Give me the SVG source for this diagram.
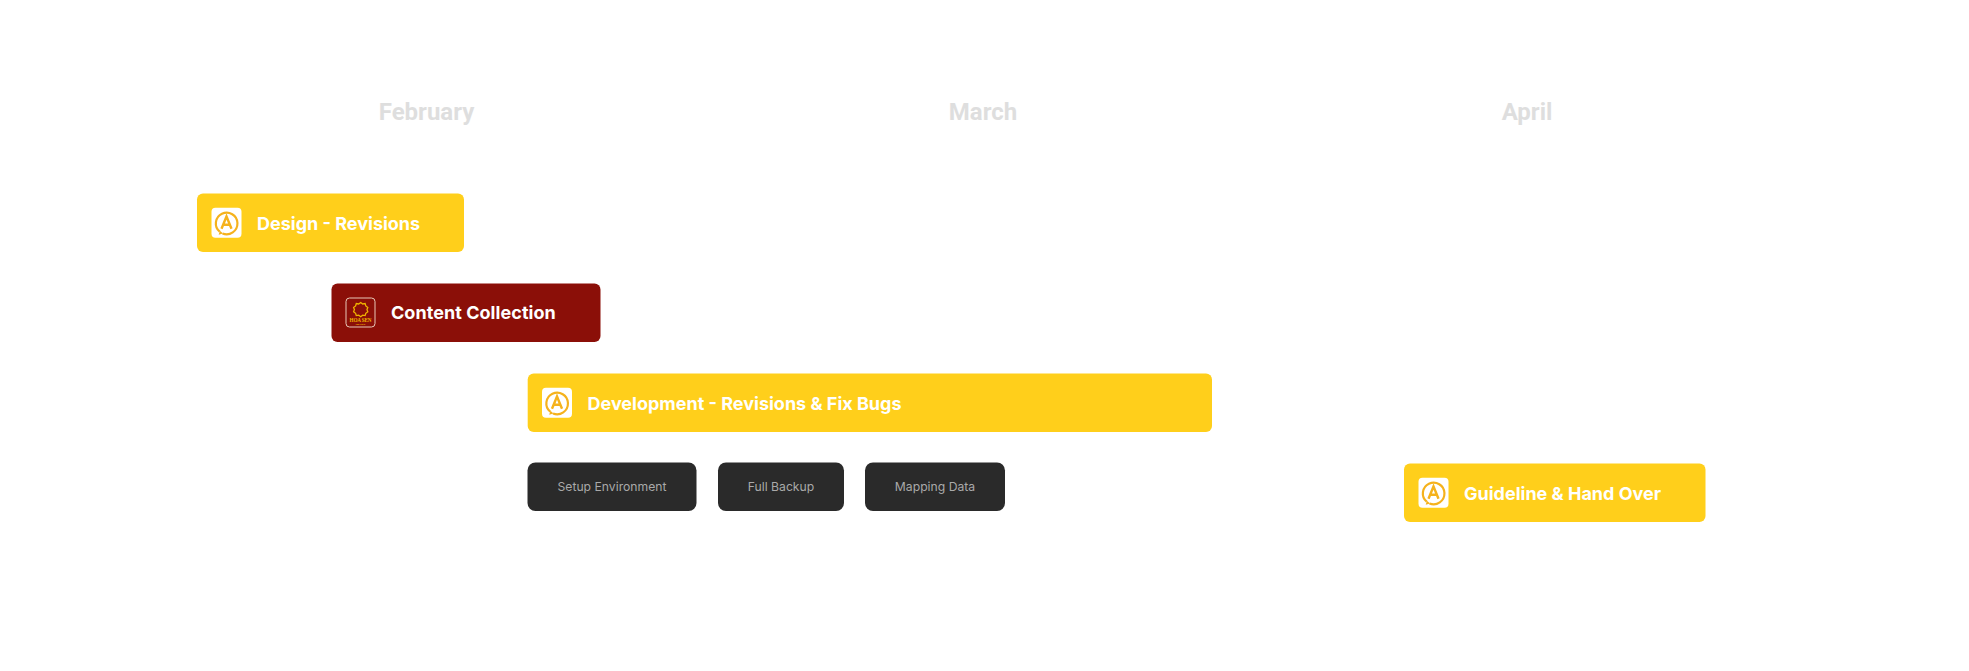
<svg xmlns="http://www.w3.org/2000/svg" width="1969" height="671" viewBox="0 0 1969 671">
<style>
text{font-family:Inter,"Liberation Sans",sans-serif}
.month{font-family:Roboto,"Liberation Sans",sans-serif;font-size:24px;font-weight:700;fill:#dedede;text-anchor:middle}
.bar{fill:#ffcf1b}
.red{fill:#8b0f08}
.dark{fill:#2a2a2a}
.t{font-size:18px;font-weight:700;fill:#fff}
.s{font-size:12.200px;font-weight:400;fill:#a9a9a9;text-anchor:middle}
.lg{font-family:"Liberation Serif",serif;font-weight:700;fill:#f0b400;text-anchor:middle}
</style>
<defs>
<g id="logoA">
<rect width="30" height="30" rx="4" fill="#fff"/>
<path d="M8.200 24A10.800 10.800 0 1 1 11 25.700" fill="none" stroke="#f5b21c" stroke-width="2.200"/>
<path d="M8.400 23L7.200 27L11.600 25.800Z" fill="#f5b21c"/>
<path d="M10 21L15 8.800L20 21M12 17h6" fill="none" stroke="#f5b21c" stroke-width="2.400"/>
</g>
</defs>
<g id="month-february"><text class="month" x="426.500" y="120">February</text></g>
<g id="month-march"><text class="month" x="983" y="120">March</text></g>
<g id="month-april"><text class="month" x="1527" y="120">April</text></g>
<g id="connectors"></g>
<g id="design"><rect class="bar" x="197" y="193.500" width="267" height="58.500" rx="6"/><use href="#logoA" x="211.500" y="207.700"/><text class="t" x="257" y="229.500">Design - Revisions</text></g>
<g id="content"><rect class="red" x="331.500" y="283.500" width="269" height="58.500" rx="6"/>
<rect x="346" y="298" width="29" height="29" rx="3.500" fill="none" stroke="#e8c9b8" stroke-width="1"/>
<path d="M360.700 302.500l2 1.500 2.400-.4.700 2.300 2 1.500-.8 2.200.8 2.200-2 1.500-.7 2.300-2.400-.4-2 1.500-2-1.500-2.400.4-.7-2.300-2-1.500.8-2.200-.8-2.200 2-1.500.7-2.300 2.400.4z" fill="none" stroke="#f0b400" stroke-width="1.300"/>
<text class="lg" x="360.500" y="321.800" font-size="5.200" textLength="22">HOA SEN</text>
<text class="lg" x="360.500" y="325.300" font-size="2.800">GROUP</text>
<text class="t" x="391" y="319.200" letter-spacing="0.050">Content Collection</text></g>
<g id="development"><rect class="bar" x="527.700" y="373.500" width="684.300" height="58.500" rx="6"/><use href="#logoA" x="542" y="387.700"/><text class="t" x="587.500" y="409.500">Development - Revisions &amp; Fix Bugs</text></g>
<g id="setup"><rect class="dark" x="527.500" y="462.500" width="169" height="48.500" rx="8"/><text class="s" x="612" y="491">Setup Environment</text></g>
<g id="backup"><rect class="dark" x="718" y="462.500" width="126" height="48.500" rx="8"/><text class="s" x="781" y="491">Full Backup</text></g>
<g id="mapping"><rect class="dark" x="865" y="462.500" width="140" height="48.500" rx="8"/><text class="s" x="935" y="491">Mapping Data</text></g>
<g id="guideline"><rect class="bar" x="1404" y="463.500" width="301.500" height="58.500" rx="6"/><use href="#logoA" x="1418.500" y="477.700"/><text class="t" x="1464" y="499.500">Guideline &amp; Hand Over</text></g>
</svg>
